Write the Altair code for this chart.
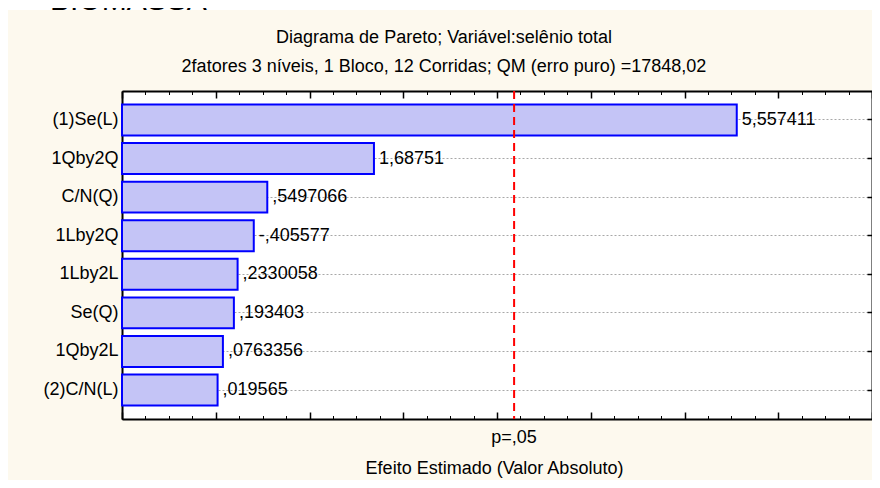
import altair as alt
import pandas as pd

# ---- data ----
factors = ["(1)Se(L)", "1Qby2Q", "C/N(Q)", "1Lby2Q", "1Lby2L", "Se(Q)", "1Qby2L", "(2)C/N(L)"]
effects = [5.557411, 1.68751, 0.5497066, -0.405577, 0.2330058, 0.193403, 0.0763356, 0.019565]
labels = ["5,557411", "1,68751", ",5497066", "-,405577", ",2330058", ",193403", ",0763356", ",019565"]
p_crit = 3.182446
p_label = "p=,05"
title_lines = [
    "Diagrama de Pareto; Variável:selênio total",
    "2fatores 3 níveis, 1 Bloco, 12 Corridas; QM (erro puro) =17848,02",
]
x_title = "Efeito Estimado (Valor Absoluto)"
header_text = "BIOMASSA"
x_domain = [-1, 7]
major_ticks = [-1, 0, 1, 2, 3, 4, 5, 6, 7]
minor_ticks = [i / 4 for i in range(-4, 29)]

df = pd.DataFrame({
    "factor": factors,
    "effect": effects,
    "abs_effect": [abs(v) for v in effects],
    "label": labels,
})
one = pd.DataFrame({"k": [0]})

FONT = "Liberation Sans"
FS = 18
W, H = 750, 328
PL, PT = 114, 83

xscale = alt.Scale(domain=x_domain, nice=False, zero=False)
yscale = alt.Scale(domain=factors, paddingInner=0.2, paddingOuter=0.35)

bars = alt.Chart(df).mark_bar(
    fill="#c4c4f6", stroke="#0000ff", strokeWidth=2
).encode(
    x=alt.X("abs_effect:Q", scale=xscale,
            axis=alt.Axis(orient="bottom", values=major_ticks, labels=False,
                          tickSize={"expr": "-7"}, tickWidth=1.5, tickColor="black",
                          domainColor="black", domainWidth=2, grid=False,
                          title=x_title, titleFont=FONT, titleFontSize=FS,
                          titleFontWeight="normal", titleColor="black",
                          titleX=W / 2 - 3, titleY=54, titleBaseline="alphabetic",
                          titleAlign="center", titleAnchor="middle")),
    x2=alt.datum(-1),
    y=alt.Y("factor:N", scale=yscale, sort=factors,
            axis=alt.Axis(orient="left", title=None, labelFont=FONT, labelFontSize=FS,
                          labelColor="black", labelPadding=9,
                          tickSize={"expr": "-5"}, tickWidth=1.5, tickColor="black",
                          domainColor="black", domainWidth=2,
                          grid=True, gridColor="#a8a8a8", gridDash=[2, 2], gridWidth=1)),
)

texts = alt.Chart(df).mark_text(
    align="left", baseline="middle", dx=5, font=FONT, fontSize=FS, color="black"
).encode(
    x=alt.X("abs_effect:Q", scale=xscale,
            axis=alt.Axis(orient="bottom", values=minor_ticks, labels=False,
                          tickSize={"expr": "-3.5"}, tickWidth=1, tickColor="black",
                          domain=False, grid=False, title=None)),
    y=alt.Y("factor:N", scale=yscale, sort=factors,
            axis=alt.Axis(orient="right", labels=False, title=None,
                          tickSize={"expr": "-5"}, tickWidth=1.5, tickColor="black",
                          domainColor="black", domainWidth=2, grid=False)),
    text="label:N",
)

rule = alt.Chart(one).mark_rule(
    color="#ff0000", strokeDash=[8, 5], strokeWidth=2
).encode(
    x=alt.datum(p_crit, scale=xscale,
                axis=alt.Axis(orient="top", values=major_ticks, labels=False,
                              tickSize={"expr": "-7"}, tickWidth=1.5, tickColor="black",
                              domainColor="black", domainWidth=2, grid=False, title=None)),
)

plabel = alt.Chart(one).mark_text(
    align="center", baseline="alphabetic", font=FONT, fontSize=FS, color="black"
).encode(
    x=alt.datum(p_crit, scale=xscale,
                axis=alt.Axis(orient="top", values=minor_ticks, labels=False,
                              tickSize={"expr": "-3.5"}, tickWidth=1, tickColor="black",
                              domain=False, grid=False, title=None)),
    y=alt.value(H + 24),
    text=alt.value(p_label),
)

top_strip = alt.Chart(one).mark_rect(color="white").encode(
    x=alt.value(-PL), x2=alt.value(W + 10), y=alt.value(-PT), y2=alt.value(-PT + 2)
)

header = alt.Chart(one).mark_text(
    align="left", baseline="alphabetic", font=FONT, fontSize=30, color="black"
).encode(
    x=alt.value(-72), y=alt.value(-PT + 2), text=alt.value(header_text)
)

title1 = alt.Chart(one).mark_text(
    align="center", baseline="alphabetic", font=FONT, fontSize=FS, color="black"
).encode(
    x=alt.value(322), y=alt.value(-48), text=alt.value(title_lines[0])
)
title2 = alt.Chart(one).mark_text(
    align="center", baseline="alphabetic", font=FONT, fontSize=FS, color="black"
).encode(
    x=alt.value(322), y=alt.value(-19), text=alt.value(title_lines[1])
)

chart = alt.layer(top_strip, header, title1, title2, bars, texts, rule, plabel).resolve_axis(
    x="independent", y="independent"
).properties(
    width=W, height=H,
    autosize=alt.AutoSizeParams(type="none"),
    padding={"left": PL, "top": PT, "right": 0, "bottom": 61},
    background="#fdf9ee",
).configure_view(stroke=None, fill="white")

chart.save("out.html", embed_options={"renderer": "svg", "actions": False})
